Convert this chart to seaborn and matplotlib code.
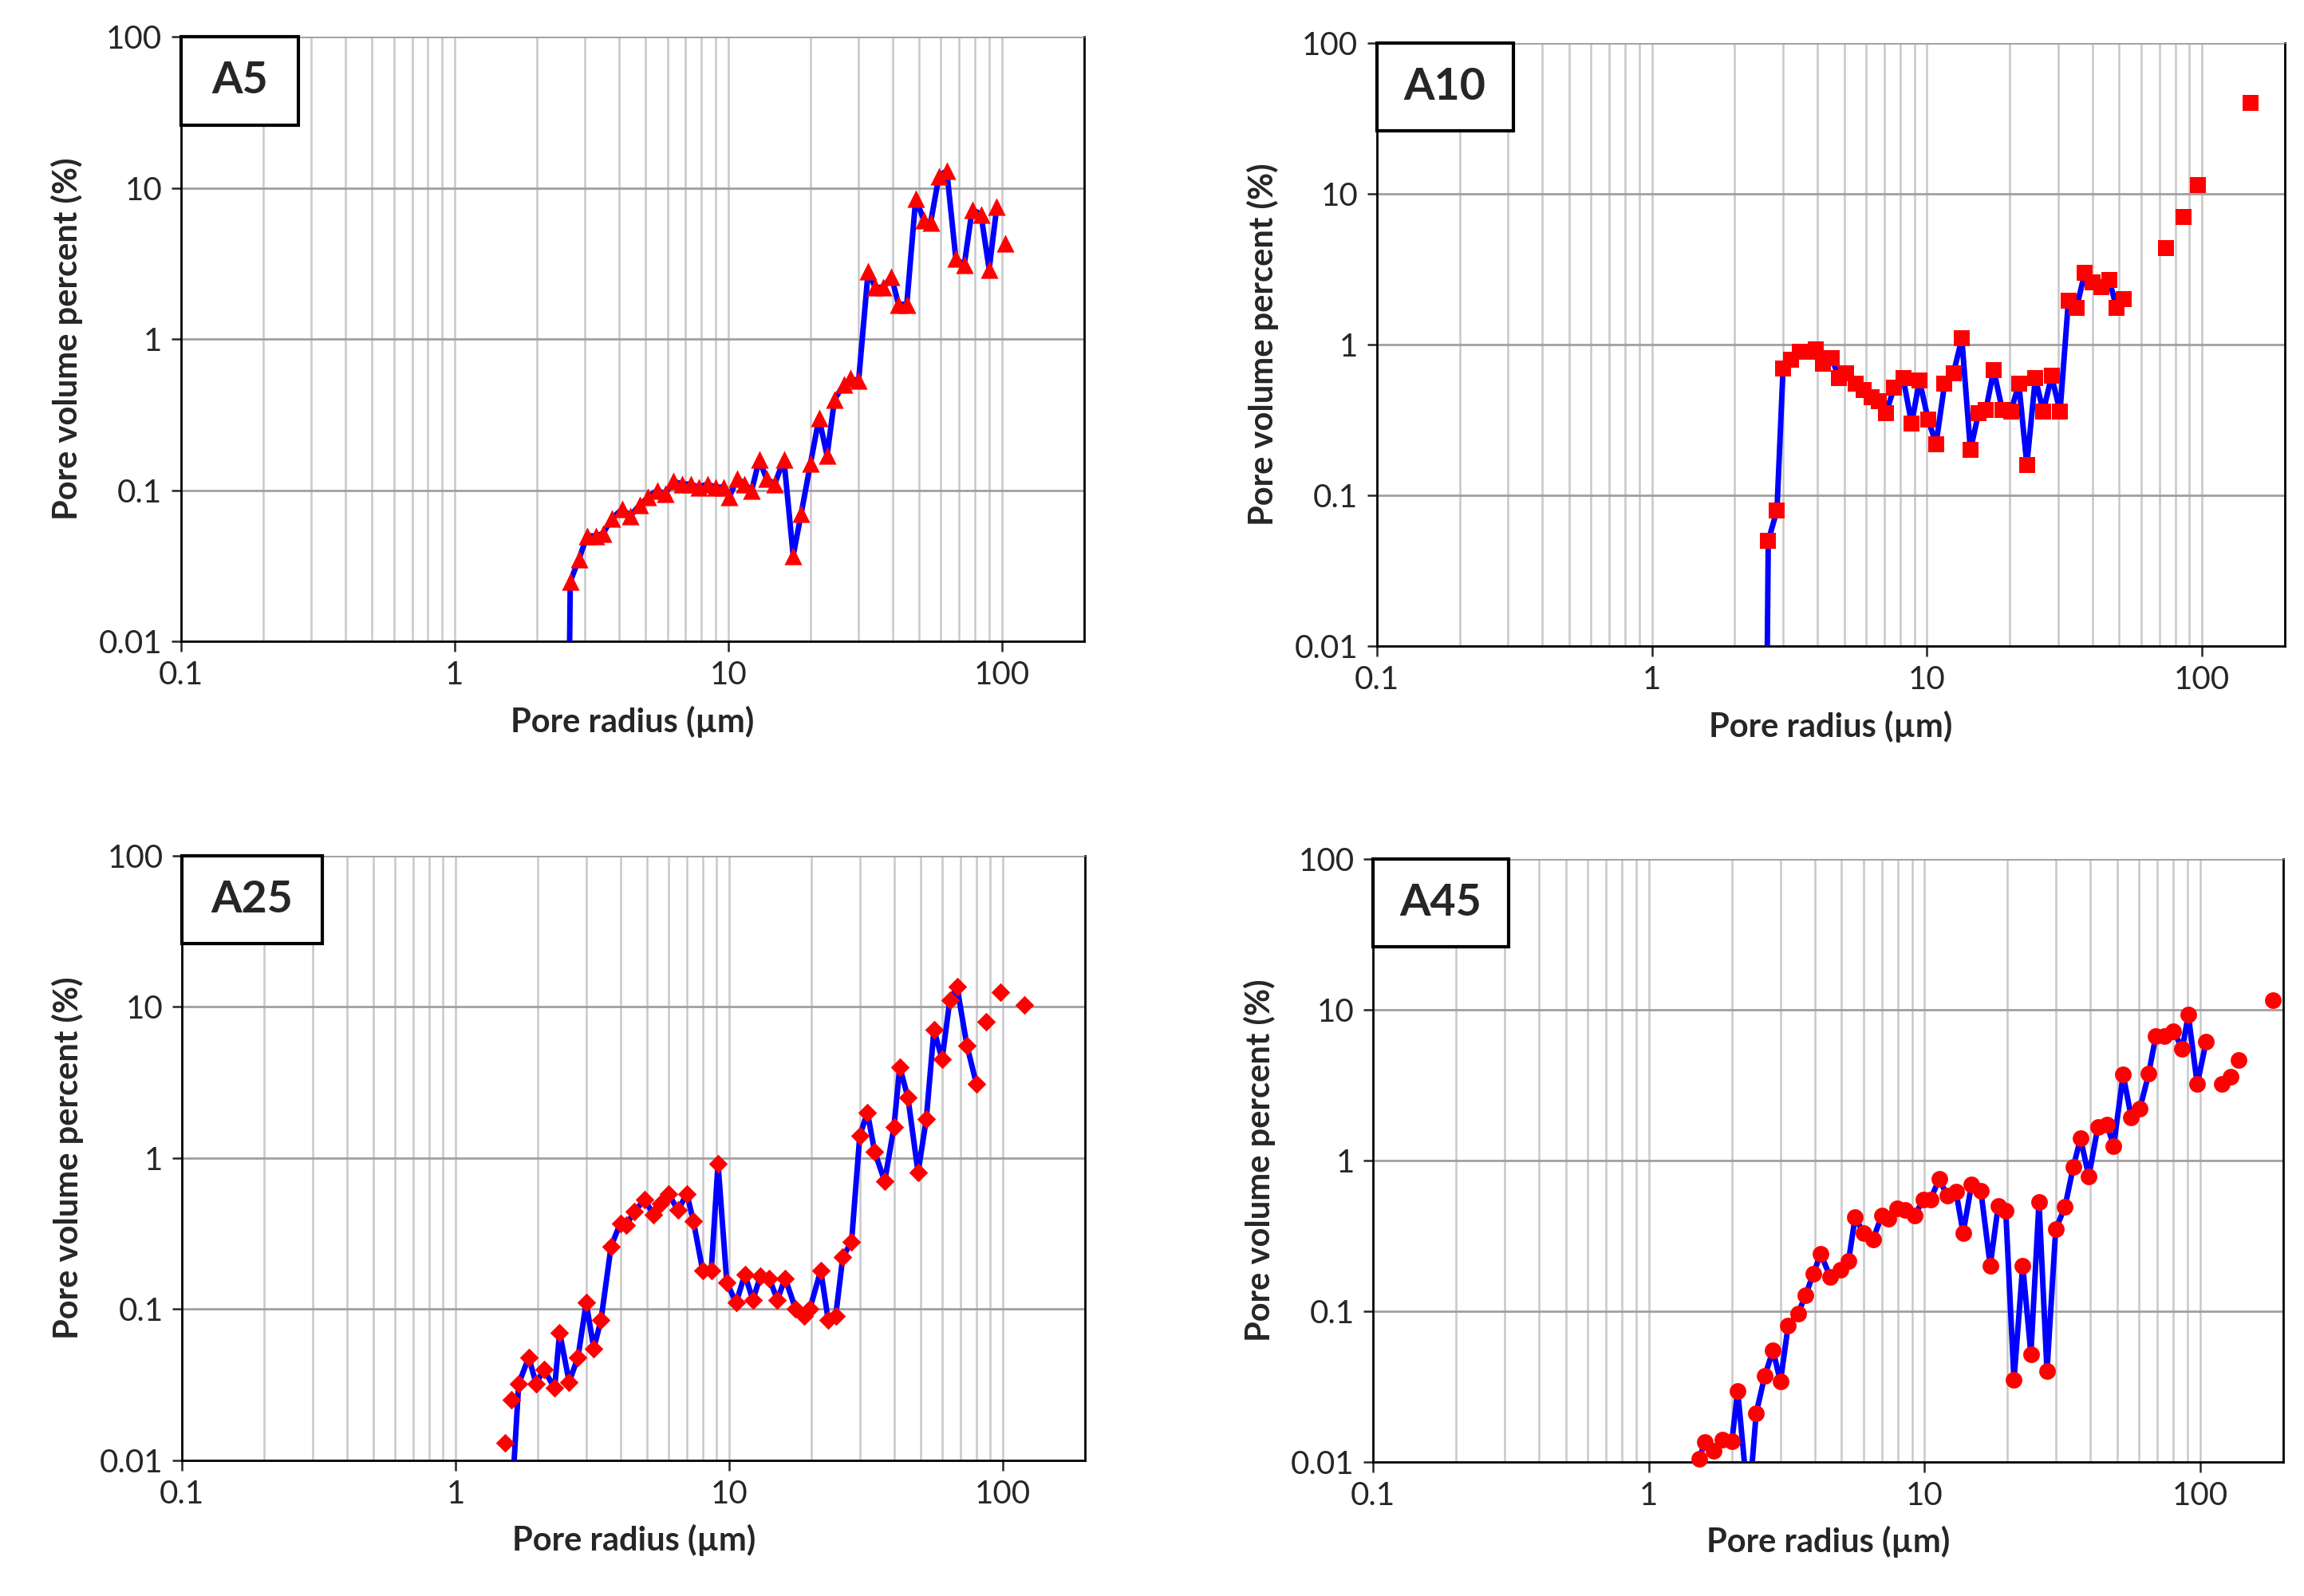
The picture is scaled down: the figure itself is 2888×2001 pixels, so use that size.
import matplotlib
matplotlib.use("Agg")
import matplotlib.pyplot as plt
import seaborn as sns
import numpy as np
import pandas as pd
from matplotlib.ticker import FixedLocator, LogLocator, NullFormatter
from matplotlib.patches import Rectangle

# ---------- data ----------
a5_x = [2.6, 2.65, 2.85, 3.05, 3.3, 3.5, 3.75, 4.1, 4.4, 4.75, 5.1, 5.5, 5.9, 6.3, 6.8, 7.3, 7.8, 8.4, 9.0, 9.6,
        10.1, 10.8, 11.5, 12.2, 13.0, 13.8, 14.8, 16.0, 17.3, 18.5, 20.0, 21.5, 23.0, 24.5, 26.5, 28.0, 30.0,
        32.5, 34.5, 37.0, 39.5, 42.0, 45.0, 48.5, 52.0, 55.0, 59.0, 63.0, 68.0, 73.0, 78.0, 84.0, 90.0, 96.0]
a5_y = [0.001, 0.025, 0.035, 0.05, 0.05, 0.052, 0.065, 0.075, 0.068, 0.08, 0.09, 0.1, 0.095, 0.115, 0.11, 0.11,
        0.105, 0.11, 0.105, 0.105, 0.09, 0.12, 0.11, 0.1, 0.16, 0.12, 0.11, 0.16, 0.037, 0.07, 0.15, 0.3, 0.17,
        0.4, 0.5, 0.55, 0.53, 2.8, 2.2, 2.2, 2.6, 1.7, 1.7, 8.5, 6.1, 5.9, 12.0, 13.0, 3.4, 3.1, 7.2, 6.7, 2.9, 7.5]
a5_ix = [103.0]
a5_iy = [4.3]

a10_x = [2.6, 2.65, 2.85, 3.0, 3.2, 3.45, 3.7, 3.95, 4.2, 4.5, 4.8, 5.1, 5.5, 5.9, 6.3, 6.7, 7.1, 7.6, 8.2, 8.8,
         9.4, 10.1, 10.8, 11.6, 12.5, 13.4, 14.4, 15.4, 16.4, 17.5, 18.8, 20.2, 21.6, 23.1, 24.8, 26.5, 28.4,
         30.5, 32.7, 35.0, 37.5, 40.0, 43.0, 46.0, 49.0, 52.0]
a10_y = [0.001, 0.05, 0.08, 0.7, 0.8, 0.9, 0.9, 0.93, 0.75, 0.82, 0.6, 0.65, 0.55, 0.5, 0.45, 0.42, 0.35, 0.52,
         0.6, 0.3, 0.58, 0.32, 0.22, 0.55, 0.65, 1.1, 0.2, 0.35, 0.37, 0.68, 0.37, 0.36, 0.55, 0.16, 0.6, 0.36,
         0.62, 0.36, 1.95, 1.75, 3.0, 2.6, 2.4, 2.7, 1.75, 2.0]
a10_ix = [74.0, 86.0, 97.0, 150.0]
a10_iy = [4.4, 7.0, 11.5, 40.0]

a25_x = [1.6, 1.7, 1.85, 1.97, 2.1, 2.3, 2.4, 2.6, 2.8, 3.0, 3.2, 3.4, 3.7, 4.0, 4.2, 4.5, 4.9, 5.3, 5.6, 6.0,
         6.5, 7.0, 7.4, 8.0, 8.6, 9.1, 9.8, 10.6, 11.4, 12.2, 13.0, 14.0, 15.0, 16.0, 17.5, 18.8, 19.7, 21.6,
         23.0, 24.5, 26.0, 28.0, 30.0, 32.0, 34.0, 37.0, 40.0, 42.0, 45.0, 49.0, 52.5, 56.0, 60.0, 64.0, 68.0,
         74.0, 80.0]
a25_y = [0.005, 0.032, 0.048, 0.032, 0.04, 0.03, 0.07, 0.033, 0.048, 0.11, 0.055, 0.085, 0.26, 0.37, 0.36, 0.44,
         0.53, 0.42, 0.5, 0.58, 0.45, 0.58, 0.38, 0.18, 0.18, 0.92, 0.15, 0.11, 0.17, 0.115, 0.165, 0.16, 0.115,
         0.16, 0.1, 0.09, 0.1, 0.18, 0.085, 0.09, 0.22, 0.28, 1.4, 2.0, 1.1, 0.7, 1.6, 4.0, 2.5, 0.8, 1.8, 7.0,
         4.5, 11.0, 13.5, 5.5, 3.1]
a25_ix = [1.52, 1.6, 87.0, 98.0, 120.0]
a25_iy = [0.013, 0.025, 8.0, 12.5, 10.3]

a45_x = [1.52, 1.6, 1.72, 1.85, 2.0, 2.1, 2.3, 2.45, 2.63, 2.82, 3.0, 3.2, 3.47, 3.7, 3.95, 4.2, 4.55, 4.95, 5.3,
         5.6, 6.0, 6.5, 7.0, 7.4, 7.95, 8.5, 9.2, 9.9, 10.5, 11.3, 12.1, 13.0, 13.8, 14.8, 16.0, 17.3, 18.5, 19.7,
         21.1, 22.7, 24.3, 26.0, 27.8, 29.9, 32.3, 34.6, 36.8, 39.4, 42.5, 45.9, 48.5, 52.5, 56.2, 60.4, 65.0,
         69.0, 74.0, 80.0, 86.0, 90.5, 97.5, 105.0]
a45_y = [0.0105, 0.0136, 0.0118, 0.014, 0.0137, 0.0296, 0.005, 0.021, 0.037, 0.055, 0.034, 0.08, 0.096, 0.127,
         0.177, 0.24, 0.168, 0.187, 0.215, 0.42, 0.33, 0.30, 0.43, 0.41, 0.48, 0.47, 0.43, 0.55, 0.55, 0.75, 0.58,
         0.62, 0.33, 0.69, 0.63, 0.2, 0.5, 0.46, 0.035, 0.2, 0.052, 0.53, 0.04, 0.35, 0.49, 0.9, 1.4, 0.78, 1.66,
         1.73, 1.24, 3.7, 1.93, 2.2, 3.75, 6.7, 6.7, 7.2, 5.5, 9.2, 3.2, 6.1]
a45_ix = [120.0, 129.0, 138.0, 183.0]
a45_iy = [3.2, 3.6, 4.65, 11.5]

panels = [
    ("A5", a5_x, a5_y, a5_ix, a5_iy, "^", [0.0785, 0.598, 0.392, 0.379], 0.13),
    ("A10", a10_x, a10_y, a10_ix, a10_iy, "s", [0.5976, 0.595, 0.394, 0.378], 0.15),
    ("A25", a25_x, a25_y, a25_ix, a25_iy, "D", [0.079, 0.085, 0.392, 0.379], 0.155),
    ("A45", a45_x, a45_y, a45_ix, a45_iy, "o", [0.596, 0.084, 0.395, 0.378], 0.149),
]
x_ticks = [0.1, 1, 10, 100]
x_labels = ["0.1", "1", "10", "100"]
y_ticks = [0.01, 0.1, 1, 10, 100]
y_labels = ["0.01", "0.1", "1", "10", "100"]

sns.set_style("white")
plt.rcParams['font.family'] = ['Lato', 'DejaVu Sans']

fig = plt.figure(figsize=(28.88, 20.01), dpi=100)
msize = {"^": 16, "s": 14, "D": 12, "o": 15}
for name, lx, ly, ix, iy, mk, rect, bw in panels:
    ax = fig.add_axes(rect)
    ax.set_xscale("log")
    ax.set_yscale("log")
    ax.set_xlim(0.1, 200)
    ax.set_ylim(0.01, 100)
    df = pd.DataFrame({"x": lx, "y": ly})
    sns.lineplot(data=df, x="x", y="y", ax=ax, sort=False, color="#0000ff", linewidth=5, zorder=3)
    pts = pd.DataFrame({"x": [v for v, w in zip(lx, ly) if w >= 0.01] + ix,
                        "y": [w for w in ly if w >= 0.01] + iy})
    sns.scatterplot(data=pts, x="x", y="y", ax=ax, marker=mk, s=msize[mk] ** 2, color="#ff0000",
                    edgecolor="#ff0000", linewidth=0, zorder=4, clip_on=False)
    ax.xaxis.set_major_locator(FixedLocator(x_ticks))
    ax.set_xticklabels(x_labels)
    ax.xaxis.set_minor_locator(LogLocator(base=10, subs=np.arange(2, 10)))
    ax.xaxis.set_minor_formatter(NullFormatter())
    ax.yaxis.set_major_locator(FixedLocator(y_ticks))
    ax.set_yticklabels(y_labels)
    ax.yaxis.set_minor_locator(FixedLocator([]))
    ax.grid(True, which="major", axis="y", color="#a0a0a0", linewidth=2)
    ax.grid(True, which="both", axis="x", color="#c8c8c8", linewidth=1.8)
    ax.set_axisbelow(True)
    ax.tick_params(axis="both", which="major", labelsize=29, length=9, width=1.8, direction="out",
                   bottom=True, left=True, pad=8)
    ax.tick_params(axis="x", which="minor", length=0)
    for sp in ["left", "bottom", "right"]:
        ax.spines[sp].set_color("black")
        ax.spines[sp].set_linewidth(2)
    ax.spines["top"].set_color("#a0a0a0")
    ax.set_xlabel("Pore radius (µm)", fontsize=30, fontweight="bold", labelpad=14)
    ax.set_ylabel("Pore volume percent (%)", fontsize=30, fontweight="bold", labelpad=14)
    bh = 0.146
    ax.add_patch(Rectangle((0, 1 - bh), bw, bh, transform=ax.transAxes, facecolor="white",
                           edgecolor="black", linewidth=3, zorder=6, clip_on=False))
    ax.text(bw / 2, 1 - bh / 2, name, transform=ax.transAxes, fontsize=40, fontweight="bold",
            ha="center", va="center", zorder=7)

fig.savefig("out.png", dpi=100)
